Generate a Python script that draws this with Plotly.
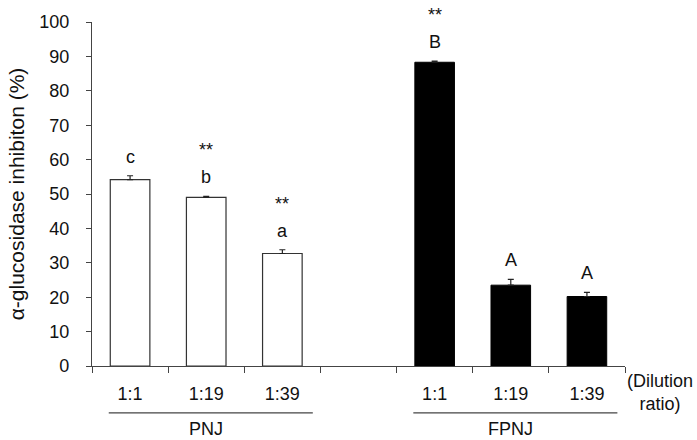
import plotly.graph_objects as go

# ---- data ----
groups = ["PNJ", "FPNJ"]
ratios = ["1:1", "1:19", "1:39"]
pnj_vals = [54.2, 49.0, 32.7]
pnj_err = [1.1, 0.3, 1.1]
fpnj_vals = [88.3, 23.5, 20.2]
fpnj_err = [0.3, 1.7, 1.2]
pnj_letters = ["c", "b", "a"]
fpnj_letters = ["B", "A", "A"]
pnj_sig = ["", "**", "**"]
fpnj_sig = ["**", "", ""]
y_title = "α-glucosidase inhibiton (%)"
x_note = "(Dilution<br>ratio)"

FONT = "Liberation Sans, Arial, sans-serif"
AX = "#444444"
FS = 18

pnj_cats = [f"{groups[0]} {r}" for r in ratios]
fpnj_cats = [f"{groups[1]} {r}" for r in ratios]
gap = " "
cats = pnj_cats + [gap] + fpnj_cats
ticktext = ratios + [""] + ratios

fig = go.Figure()
fig.add_trace(go.Bar(
    x=pnj_cats, y=pnj_vals, width=0.52,
    marker=dict(color="white", line=dict(color="#333333", width=1.2)),
    error_y=dict(type="data", symmetric=False, array=pnj_err,
                 arrayminus=[0] * len(pnj_err), color="#222222", thickness=1.2, width=3),
    showlegend=False,
))
fig.add_trace(go.Bar(
    x=fpnj_cats, y=fpnj_vals, width=0.52,
    marker=dict(color="black", line=dict(color="black", width=1)),
    error_y=dict(type="data", symmetric=False, array=fpnj_err,
                 arrayminus=[0] * len(fpnj_err), color="#222222", thickness=1.2, width=3),
    showlegend=False,
))

annotations = []
def add_labels(cat_list, vals, errs, letters, sigs):
    for c, v, e, l, s in zip(cat_list, vals, errs, letters, sigs):
        annotations.append(dict(x=c, y=v + e, xref="x", yref="y", text=l,
                                showarrow=False, yanchor="middle", yshift=19,
                                font=dict(family=FONT, size=FS, color="#111")))
        if s:
            annotations.append(dict(x=c, y=v + e, xref="x", yref="y", text=s,
                                    showarrow=False, yanchor="middle", yshift=46,
                                    font=dict(family=FONT, size=FS, color="#111")))

add_labels(pnj_cats, pnj_vals, pnj_err, pnj_letters, pnj_sig)
add_labels(fpnj_cats, fpnj_vals, fpnj_err, fpnj_letters, fpnj_sig)

shapes = []
for gname, glist in zip(groups, [pnj_cats, fpnj_cats]):
    i0 = cats.index(glist[0])
    i1 = cats.index(glist[-1])
    shapes.append(dict(type="line", xref="x", yref="paper",
                       x0=i0 - 0.28, x1=i1 + 0.4, y0=-0.136, y1=-0.136,
                       line=dict(color=AX, width=1.2)))
    annotations.append(dict(x=glist[1], y=-0.184, xref="x", yref="paper",
                            text=gname, showarrow=False, yanchor="middle",
                            font=dict(family=FONT, size=FS, color="#111")))

annotations.append(dict(x=1.0, y=-0.076, xref="paper", yref="paper",
                        text=x_note, showarrow=False, xanchor="left",
                        yanchor="middle", align="center",
                        font=dict(family=FONT, size=18, color="#111")))

fig.update_layout(
    width=697, height=440, autosize=False,
    margin=dict(l=92, r=72, t=14, b=74),
    paper_bgcolor="white", plot_bgcolor="white",
    barmode="overlay",
    font=dict(family=FONT, size=FS, color="#111"),
    annotations=annotations, shapes=shapes,
    xaxis=dict(
        type="category", categoryorder="array", categoryarray=cats,
        tickmode="array", tickvals=cats, ticktext=ticktext,
        tickson="boundaries", ticks="outside", ticklen=6, tickcolor=AX,
        showline=True, linecolor=AX, linewidth=1.2, showgrid=False,
        range=[-0.5, 6.5], ticklabelstandoff=11,
        tickfont=dict(family=FONT, size=FS, color="#111"),
    ),
    yaxis=dict(
        range=[0, 100], tickmode="linear", tick0=0, dtick=10,
        ticks="outside", ticklen=5, tickcolor=AX,
        showline=True, linecolor=AX, linewidth=1.2, showgrid=False,
        zeroline=False, ticklabelstandoff=13,
        tickfont=dict(family=FONT, size=FS, color="#111"),
        title=dict(text=y_title, standoff=8,
                   font=dict(family=FONT, size=21, color="#111")),
    ),
)

fig.write_html("out.html")
